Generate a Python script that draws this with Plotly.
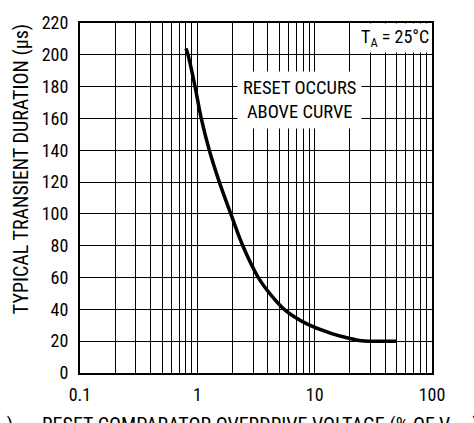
import plotly.graph_objects as go

# Data
overdrive_pct = [0.80, 0.833, 0.956, 1.08, 1.265, 1.54, 1.93, 2.44, 3.31, 4.25, 5.5, 8.5, 14, 20, 25, 30, 50]
duration_us = [204, 200, 180, 160, 140, 120, 100, 80, 60, 49, 40, 31, 24.8, 21.7, 20.3, 20, 20]

y_ticks = list(range(0, 221, 20))

FONT = "Liberation Sans Narrow, Roboto Condensed, Arial Narrow, Roboto, sans-serif"

fig = go.Figure()
fig.add_trace(go.Scatter(
    x=overdrive_pct, y=duration_us, mode="lines",
    line=dict(color="black", width=3.5, shape="spline", smoothing=1.0),
    hoverinfo="skip", showlegend=False,
))

fig.update_layout(
    width=474, height=423,
    margin=dict(l=80, r=42, t=21, b=50),
    paper_bgcolor="white", plot_bgcolor="white",
    font=dict(family=FONT, size=18, color="black"),
    xaxis=dict(
        type="log", range=[-1, 2], dtick=1,
        showgrid=True, gridcolor="black", gridwidth=1,
        minor=dict(dtick="D1", showgrid=True, gridcolor="black", gridwidth=1, ticks=""),
        showline=True, linecolor="black", linewidth=2, mirror=True,
        ticks="", ticklabelstandoff=4, tickfont=dict(size=18, family=FONT),
        zeroline=False, fixedrange=True,
    ),
    yaxis=dict(
        range=[0, 220], tickvals=y_ticks,
        showgrid=True, gridcolor="black", gridwidth=1,
        showline=True, linecolor="black", linewidth=2, mirror=True,
        ticks="", ticklabelstandoff=6, tickfont=dict(size=18, family=FONT),
        zeroline=False, fixedrange=True,
    ),
)

fig.add_annotation(
    xref="paper", yref="paper", x=(21 - 80) / 352, y=(373 - 168) / 352,
    text="TYPICAL TRANSIENT DURATION (µs)", textangle=-90,
    showarrow=False, font=dict(size=20, family=FONT),
    xanchor="center", yanchor="middle",
)
fig.add_annotation(
    xref="paper", yref="paper", x=(40 - 80) / 352, y=-(411 - 373) / 352,
    text="RESET COMPARATOR OVERDRIVE VOLTAGE (% OF V<sub>RTX</sub>)",
    showarrow=False, font=dict(size=20, family=FONT),
    xanchor="left", yanchor="top",
)
fig.add_annotation(
    xref="paper", yref="paper", x=(-3 - 80) / 352, y=-(411 - 373) / 352,
    text="<sub>X</sub>)",
    showarrow=False, font=dict(size=20, family=FONT),
    xanchor="left", yanchor="top",
)
fig.add_annotation(
    xref="paper", yref="paper", x=(299 - 80) / 352, y=(373 - 98) / 352,
    text="RESET OCCURS<br>ABOVE CURVE",
    showarrow=False, font=dict(size=18.5, family=FONT),
    bgcolor="white", borderpad=5, xanchor="center", yanchor="middle",
)
fig.add_annotation(
    xref="paper", yref="paper", x=1, y=1,
    text="T<sub>A</sub> = 25°C",
    showarrow=False, font=dict(size=18, family=FONT),
    bgcolor="white", borderpad=2, xanchor="right", yanchor="top",
)

fig.write_html("out.html")
